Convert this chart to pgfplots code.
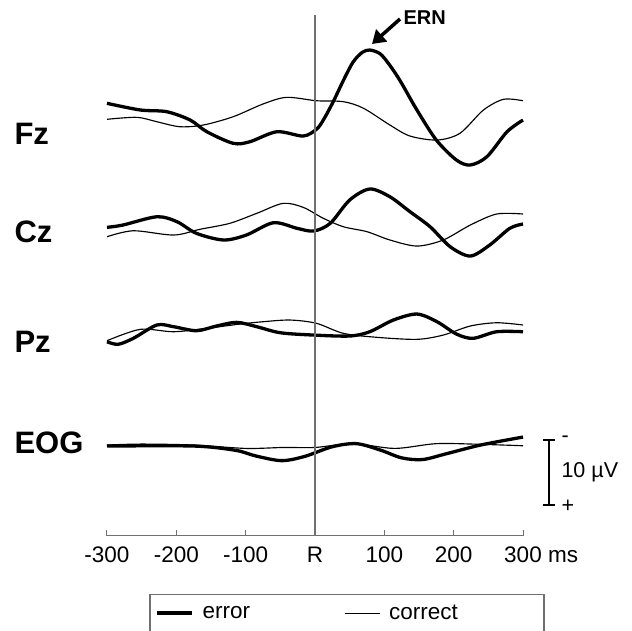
\documentclass[border=0pt]{standalone}
\usepackage{fontspec}
\setmainfont{Liberation Sans}
\usepackage{pgfplots}
\usepackage{pgfplotstable}
\pgfplotsset{compat=1.18}
\usetikzlibrary{arrows.meta}

% ERP amplitudes in microvolt (negative up), time in ms
\pgfplotstableread{
t v
-300 -1.72
-252 -0.74
-214 -0.49
-180 0.74
-156 2.46
-118 4.16
-94 3.93
-55 2.46
-17 3.09
2 2.10
12 0.74
26 -1.90
41 -5.10
55 -7.80
68 -9.20
79 -9.56
94 -9.00
108 -7.30
123 -5.00
147 -0.74
175 3.68
204 6.62
224 7.35
248 6.13
277 2.46
300 0.74
}\FzErr
\pgfplotstableread{
t v
-300 0.63
-257 0.34
-228 0.99
-195 1.72
-161 1.47
-118 0.25
-75 -1.62
-41 -2.60
2 -2.10
41 -1.96
70 -0.99
108 1.47
137 3.09
176 3.68
209 2.69
243 -0.74
272 -2.31
300 -2.10
}\FzCor
\pgfplotstableread{
t v
-300 -0.10
-277 -0.44
-228 -1.66
-199 -0.93
-171 0.78
-132 1.76
-99 1.03
-60 -0.78
-26 0.04
-2 0.44
22 -0.69
50 -4.12
79 -5.74
108 -4.60
137 -2.40
166 -0.19
195 2.75
224 4.12
252 2.50
281 0.04
300 -0.59
}\CzErr
\pgfplotstableread{
t v
-300 1.28
-262 0.40
-204 1.03
-166 0.19
-123 -0.69
-84 -2.16
-46 -3.63
-17 -3.04
12 -1.43
41 -0.19
75 0.54
108 1.76
147 2.65
185 1.76
224 -0.44
262 -2.06
300 -2.06
}\CzCor
\pgfplotstableread{
t v
-300 1.72
-284 2.10
-262 1.22
-228 -0.74
-204 -0.49
-171 0.10
-142 -0.59
-113 -1.13
-84 -0.49
-50 0.40
-2 0.74
50 0.88
79 0.25
113 -1.47
147 -2.35
176 -1.22
204 0.59
228 1.22
262 0.25
300 0.25
}\PzErr
\pgfplotstableread{
t v
-300 1.57
-252 -0.10
-204 0.25
-156 -0.25
-108 -0.88
-75 -1.22
-36 -1.47
2 -0.99
41 0.49
89 1.07
147 1.37
185 0.74
224 -0.59
262 -1.07
300 -0.74
}\PzCor
\pgfplotstableread{
t v
-300 0.00
-175 0.00
-115 0.62
-85 1.47
-48 2.15
-15 1.53
25 0.10
60 -0.35
95 0.62
125 1.74
155 1.99
190 1.12
239 -0.15
300 -1.32
}\EOGErr
\pgfplotstableread{
t v
-300 -0.15
-250 -0.29
-175 -0.15
-100 0.35
-45 0.21
0 0.21
55 -0.35
115 0.35
175 -0.35
239 -0.25
300 -0.04
}\EOGCor

\definecolor{thin}{HTML}{959595}
\definecolor{axisgray}{HTML}{707070}

\begin{document}
\begin{tikzpicture}[x=1pt,y=1pt]
\begin{axis}[
  at={(0,0)}, anchor=south west, scale only axis,
  width=416pt, height=521pt,
  xmin=-300, xmax=300, ymin=-61.91, ymax=14.71,
  axis x line=bottom, axis y line=none,
  axis line style={-, draw=axisgray, line width=1pt},
  xtick={-300,-200,-100,0,100,200,300},
  xticklabels={-300,-200,-100,R,100,200,300},
  tick align=inside, major tick length=6pt,
  tick style={axisgray, line width=1pt},
  xticklabel style={font=\fontsize{22.5}{25}\selectfont, anchor=base, yshift=-27pt},
  ytick=\empty,
  clip=false,
  legend columns=2,
  legend image code/.code={\draw[#1, line cap=butt] (0pt,0pt) -- (35pt,0pt);},
  legend style={at={(0.1154,-0.1480)}, anchor=west, draw=none, fill=none,
    inner sep=0pt, font=\fontsize{22.5}{25}\selectfont,
    /tikz/every odd column/.append style={column sep=7pt},
    /tikz/every even column/.append style={column sep=92pt}},
]
\addplot[black, line width=3.3pt, smooth] table[x=t, y expr=-\thisrow{v}] {\FzErr};
\addlegendentry{error}
\addplot[thin, line width=1.15pt, smooth] table[x=t, y expr=-\thisrow{v}] {\FzCor};
\addlegendentry{correct}
\addplot[forget plot, black, line width=3.3pt, smooth] table[x=t, y expr=-\thisrow{v}-16.62] {\CzErr};
\addplot[forget plot, thin, line width=1.15pt, smooth] table[x=t, y expr=-\thisrow{v}-16.62] {\CzCor};
\addplot[forget plot, black, line width=3.3pt, smooth] table[x=t, y expr=-\thisrow{v}-31.62] {\PzErr};
\addplot[forget plot, thin, line width=1.15pt, smooth] table[x=t, y expr=-\thisrow{v}-31.62] {\PzCor};
\addplot[forget plot, black, line width=3.3pt, smooth] table[x=t, y expr=-\thisrow{v}-48.68] {\EOGErr};
\addplot[forget plot, thin, line width=1.15pt, smooth] table[x=t, y expr=-\thisrow{v}-48.68] {\EOGCor};
\addplot[forget plot, axisgray, line width=1.1pt] coordinates {(0,14.71) (0,-61.91)};
\end{axis}
% channel labels
\node[anchor=west, font=\bfseries\fontsize{31}{36}\selectfont] at (-96,402) {Fz};
\node[anchor=west, font=\bfseries\fontsize{31}{36}\selectfont] at (-96,304) {Cz};
\node[anchor=west, font=\bfseries\fontsize{31}{36}\selectfont] at (-96,194) {Pz};
\node[anchor=west, font=\bfseries\fontsize{31}{36}\selectfont] at (-96,93) {EOG};
% ERN annotation
\node[anchor=west, font=\bfseries\fontsize{20}{23}\selectfont] at (293,518) {ERN};
\draw[line width=3.5pt, -{Triangle[length=13pt,width=16pt]}] (293,517) -- (265,492);
% scale bar
\draw[line width=2.5pt] (442,96) -- (442,31);
\draw[line width=2pt] (436,96) -- (448,96);
\draw[line width=2pt] (436,31) -- (448,31);
\node[anchor=west, font=\fontsize{21.5}{24}\selectfont] at (451,97) {-};
\node[anchor=west, font=\fontsize{21.5}{24}\selectfont] at (451,30) {+};
\node[anchor=west, font=\fontsize{21.5}{24}\selectfont] at (451,64) {10 µV};
\node[anchor=base west, font=\fontsize{22.5}{25}\selectfont, inner sep=0pt] at (441,-27) {ms};
% legend frame (cut off at the bottom)
\draw[axisgray, line width=1.2pt] (43,-110) -- (43,-58.5) -- (437,-58.5) -- (437,-110);
\pgfresetboundingbox
\useasboundingbox (-107,-95) rectangle (525,536);
\end{tikzpicture}
\end{document}
